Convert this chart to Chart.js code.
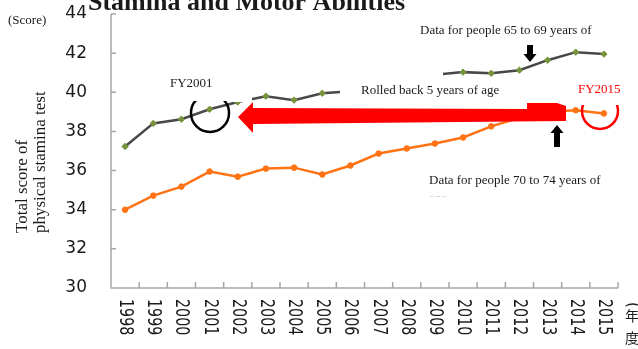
<!DOCTYPE html>
<html>
<head>
<meta charset="utf-8">
<script src="https://cdn.jsdelivr.net/npm/chart.js@4.4.0/dist/chart.umd.min.js"></script>
<style>
  html, body { margin: 0; padding: 0; background: #fff; overflow: hidden; }
  #wrap { width: 638px; height: 349px; position: relative; }
</style>
</head>
<body>
<div id="wrap"><canvas id="chart" width="638" height="349"></canvas></div>
<script>
const years = ["1998", "1999", "2000", "2001", "2002", "2003", "2004", "2005", "2006",
  "2007", "2008", "2009", "2010", "2011", "2012", "2013", "2014", "2015"];
// 65-69 year olds (grey line)
const scores65to69 = [37.23, 38.41, 38.62, 39.13, 39.5, 39.8, 39.6, 39.95, 40.05,
  40.3, 40.55, 40.9, 41.03, 40.97, 41.13, 41.64, 42.05, 41.95];
// 70-74 year olds (orange line)
const scores70to74 = [34.0, 34.72, 35.18, 35.95, 35.69, 36.1, 36.15, 35.8, 36.26,
  36.87, 37.13, 37.38, 37.69, 38.26, 38.7, 39.0, 39.08, 38.92];
const yMin = 30, yMax = 44, yStep = 2;

const serif = "'Liberation Serif', 'Times New Roman', serif";
const sans = "'DejaVu Sans', sans-serif";

// axes, inner tick marks, rotated year labels
const axisPlugin = {
  id: "axisPlugin",
  beforeDatasetsDraw(chart) {
    const { ctx, chartArea: a, scales: { x, y } } = chart;
    ctx.save();
    ctx.strokeStyle = "#a6a6a6";
    ctx.lineWidth = 1.5;
    ctx.beginPath();
    ctx.moveTo(a.left, a.top);
    ctx.lineTo(a.left, a.bottom);
    ctx.lineTo(a.right, a.bottom);
    y.ticks.forEach(t => {
      const py = y.getPixelForValue(t.value);
      ctx.moveTo(a.left, py);
      ctx.lineTo(a.left + 5, py);
    });
    const step = (a.right - a.left) / years.length;
    for (let i = 1; i <= years.length; i++) {
      const px = a.left + i * step;
      ctx.moveTo(px, a.bottom);
      ctx.lineTo(px, a.bottom - 6);
    }
    ctx.stroke();

    // year labels, reading top to bottom (tall, narrow glyphs)
    ctx.fillStyle = "#1a1a1a";
    ctx.font = "19px " + sans;
    ctx.textAlign = "left";
    ctx.textBaseline = "middle";
    years.forEach((yr, i) => {
      ctx.save();
      ctx.translate(x.getPixelForValue(i), a.bottom + 11);
      ctx.rotate(Math.PI / 2);
      ctx.scale(0.75, 1);
      ctx.fillText(yr, 0, 0);
      ctx.restore();
    });
    // (年度)
    ctx.font = "15px " + sans;
    ctx.save();
    ctx.translate(632, 302);
    ctx.rotate(Math.PI / 2);
    ctx.fillText("(", 0, 0);
    ctx.restore();
    ctx.font = "14px 'Noto Sans CJK JP', sans-serif";
    ctx.textAlign = "center";
    ctx.fillText("年", 632, 316);
    ctx.fillText("度", 632, 338);

    // y axis title, (Score), main title
    ctx.font = "17px " + serif;
    ctx.textAlign = "left";
    ctx.textBaseline = "alphabetic";
    ctx.save();
    ctx.translate(27, 233);
    ctx.rotate(-Math.PI / 2);
    ctx.fillText("Total score of", 0, 0);
    ctx.fillText("physical stamina test", 0, 18);
    ctx.restore();
    ctx.font = "13px " + serif;
    ctx.fillText("(Score)", 8, 24);
    ctx.font = "bold 26px " + serif;
    ctx.fillText("Stamina and Motor Abilities", 88, 10);
    ctx.restore();
  },
  afterDatasetsDraw(chart) {
    const { ctx } = chart;
    ctx.save();
    // white label boxes that cover parts of the lines
    ctx.fillStyle = "#fff";
    ctx.fillRect(188, 60, 64, 42);
    ctx.fillRect(340, 62, 103, 42);
    ctx.fillRect(570, 74, 55, 31);

    // circles (top halves hidden behind label boxes)
    ctx.lineWidth = 2.5;
    ctx.save();
    ctx.beginPath();
    ctx.rect(0, 101, 638, 60);
    ctx.clip();
    ctx.strokeStyle = "#000";
    ctx.beginPath();
    ctx.arc(210, 113, 19, 0, Math.PI * 2);
    ctx.stroke();
    ctx.restore();
    ctx.save();
    ctx.beginPath();
    ctx.rect(0, 105, 638, 60);
    ctx.clip();
    ctx.strokeStyle = "#ff0000";
    ctx.beginPath();
    ctx.arc(600, 111, 18, 0, Math.PI * 2);
    ctx.stroke();
    ctx.restore();

    // big red arrow pointing left
    ctx.fillStyle = "#ff0000";
    ctx.beginPath();
    ctx.moveTo(238, 117);
    ctx.lineTo(253, 102);
    ctx.lineTo(253, 108);
    ctx.lineTo(527, 109);
    ctx.lineTo(527, 103);
    ctx.lineTo(557, 103);
    ctx.lineTo(566, 106);
    ctx.lineTo(566, 121);
    ctx.lineTo(253, 124);
    ctx.lineTo(253, 133);
    ctx.closePath();
    ctx.fill();

    // black arrows
    ctx.fillStyle = "#000";
    ctx.fillRect(527, 45, 6, 10);
    ctx.beginPath();
    ctx.moveTo(523.5, 54);
    ctx.lineTo(536.5, 54);
    ctx.lineTo(530, 62);
    ctx.closePath();
    ctx.fill();
    ctx.fillRect(554, 132, 6, 15);
    ctx.beginPath();
    ctx.moveTo(550.5, 133);
    ctx.lineTo(563.5, 133);
    ctx.lineTo(557, 125);
    ctx.closePath();
    ctx.fill();

    // annotation texts
    ctx.font = "13px " + serif;
    ctx.textAlign = "left";
    ctx.textBaseline = "alphabetic";
    ctx.fillStyle = "#1a1a1a";
    ctx.fillText("FY2001", 170, 87);
    ctx.fillText("Rolled back 5 years of age", 361, 94);
    ctx.fillText("Data for people 65 to 69 years of", 420, 34);
    ctx.fillText("Data for people 70 to 74 years of", 429, 184);
    ctx.save();
    ctx.beginPath();
    ctx.rect(0, 192, 638, 5);
    ctx.clip();
    ctx.fillStyle = "#c8c8c8";
    ctx.fillText("age", 429, 202);
    ctx.restore();
    ctx.fillStyle = "#ff0000";
    ctx.fillText("FY2015", 578, 93);
    ctx.restore();
  }
};

new Chart(document.getElementById("chart").getContext("2d"), {
  type: "line",
  data: {
    labels: years,
    datasets: [
      {
        label: "65-69",
        data: scores65to69,
        borderColor: "#484848",
        borderWidth: 2.5,
        pointStyle: "rectRot",
        pointRadius: 3.2,
        pointBackgroundColor: "#77933c",
        pointBorderColor: "#77933c",
        pointBorderWidth: 1,
        tension: 0
      },
      {
        label: "70-74",
        data: scores70to74,
        borderColor: "#ff7314",
        borderWidth: 2.5,
        pointRadius: 2.8,
        pointBackgroundColor: "#ff7314",
        pointBorderColor: "#ff7314",
        pointBorderWidth: 1,
        tension: 0
      }
    ]
  },
  options: {
    responsive: false,
    animation: false,
    devicePixelRatio: 1,
    layout: { padding: { top: 14, right: 20, bottom: 0, left: 0 } },
    plugins: { legend: { display: false }, tooltip: { enabled: false } },
    scales: {
      x: {
        offset: true,
        grid: { display: false, drawTicks: false },
        border: { display: false },
        ticks: { display: false },
        afterFit(s) { s.height = 61; s.paddingLeft = 0; s.paddingRight = 0; }
      },
      y: {
        min: yMin,
        max: yMax,
        ticks: { stepSize: yStep, padding: 24, color: "#1a1a1a", font: { family: "DejaVu Sans", size: 17 } },
        grid: { display: false, drawTicks: false },
        border: { display: false },
        afterFit(s) { s.width = 111; s.paddingTop = 0; s.paddingBottom = 0; }
      }
    }
  },
  plugins: [axisPlugin]
});
</script>
</body>
</html>
